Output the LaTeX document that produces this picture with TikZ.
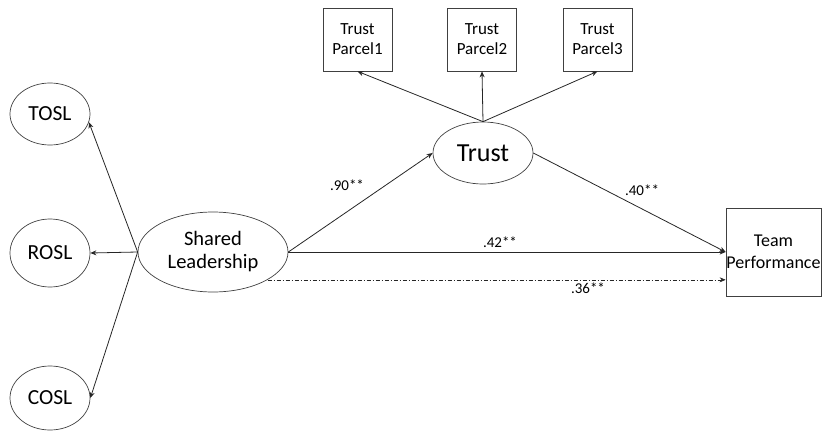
\documentclass[tikz,border=0pt]{standalone}
\usepackage{fontspec}
\setmainfont{Carlito}
\usetikzlibrary{shapes.geometric,arrows.meta}
\begin{document}
\begin{tikzpicture}[x=1pt,y=-1pt,
  line width=0.8pt,
  lat/.style={ellipse,draw=black!75,line width=0.7pt,inner sep=0pt},
  obs/.style={rectangle,draw=black!75,line width=0.7pt,inner sep=0pt,align=center},
  arr/.style={draw=black!85,-{Stealth[length=6pt,width=5pt]}},
  lbl/.style={font=\fontsize{15}{17}\selectfont},
  txt/.style={font=\fontsize{21.5}{24}\selectfont,align=center},
  small/.style={font=\fontsize{17}{20}\selectfont,align=center}]
\useasboundingbox (0,0) rectangle (822,431);
\node[lat,txt,minimum width=80pt,minimum height=62pt] (tosl) at (50,114) {TOSL};
\node[lat,txt,minimum width=80pt,minimum height=68pt] (rosl) at (50,253) {ROSL};
\node[lat,txt,minimum width=80pt,minimum height=64pt] (cosl) at (50,398) {COSL};
\node[lat,font=\fontsize{20.5}{23}\selectfont,align=center,minimum width=150pt,minimum height=80pt] (sl) at (213,252) {Shared\\Leadership};
\node[lat,font=\fontsize{26}{29}\selectfont,minimum width=100pt,minimum height=62pt] (trust) at (483,153) {Trust};
\node[obs,small,minimum width=69pt,minimum height=63pt] (p1) at (357.5,39.5) {Trust\\Parcel1};
\node[obs,small,minimum width=69pt,minimum height=63pt] (p2) at (482,39.5) {Trust\\Parcel2};
\node[obs,small,minimum width=69pt,minimum height=63pt] (p3) at (597.5,39.5) {Trust\\Parcel3};
\node[obs,font=\fontsize{18}{22}\selectfont,align=center,minimum width=95pt,minimum height=88pt] (tp) at (773.5,252) {Team\\Performance};
\coordinate (br) at (sl.west);
\draw[arr] (br) -- (tosl.-12);
\draw[arr] (br) -- (rosl.east);
\draw[arr] (br) -- (cosl.east);
\draw[arr] (trust.north) -- (p1.south);
\draw[arr] (trust.north) -- (p2.south);
\draw[arr] (trust.north) -- (p3.south);
\draw[arr] (sl.east) -- (trust.west);
\draw[arr] (trust.east) -- (tp.west);
\draw[arr] (sl.east) -- (tp.west);
\coordinate (ds) at (sl.-27);
\draw[arr,line width=0.6pt,dash pattern=on 4pt off 2pt on 1pt off 2pt] (ds) -- (ds -| tp.west);
\node[lbl] (l90) at (347,185) {.90**};
\node[lbl] (l40) at (642,190) {.40**};
\node[lbl] (l42) at (500,242) {.42**};
\node[lbl] (l36) at (588,288) {.36**};
\end{tikzpicture}
\end{document}
